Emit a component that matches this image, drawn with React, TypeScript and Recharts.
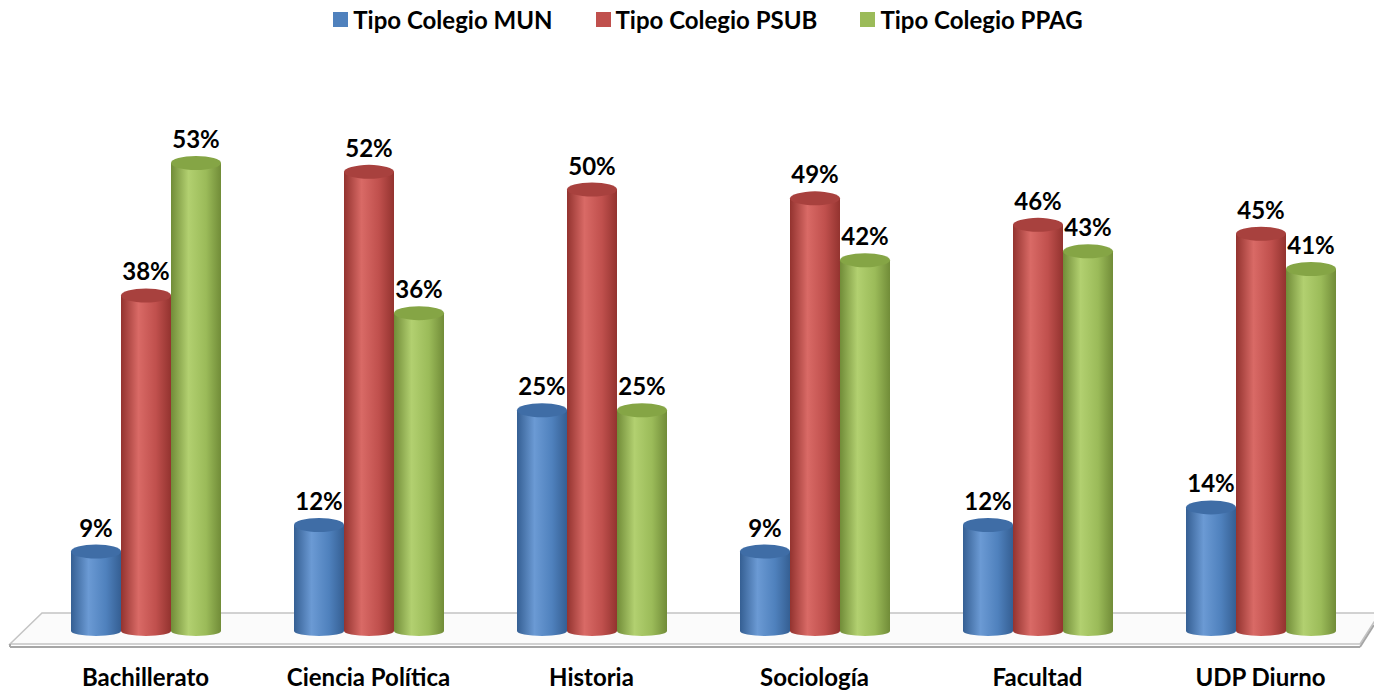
import React from 'react';
import { BarChart, Bar, XAxis, YAxis, LabelList, Customized } from 'recharts';

const categories = ['Bachillerato', 'Ciencia Política', 'Historia', 'Sociología', 'Facultad', 'UDP Diurno'];
const mun = [9, 12, 25, 9, 12, 14];
const psub = [38, 52, 50, 49, 46, 45];
const ppag = [53, 36, 25, 42, 43, 41];

const seriesNames = ['Tipo Colegio MUN', 'Tipo Colegio PSUB', 'Tipo Colegio PPAG'];

const W = 1374;
const H = 691;
const M = { top: 103, right: 2, left: 34, bottom: 0 };
const AXIS_H = 60;
const FONT = 'Lato, "Open Sans", sans-serif';

const COLORS = [
    { key: 'mun', base: '#4F81BD', dark: '#355f93', light: '#6b9ad4', top: '#3f6da6' },
    { key: 'psub', base: '#C0504D', dark: '#93332f', light: '#d96a66', top: '#a8413e' },
    { key: 'ppag', base: '#9BBB59', dark: '#718c38', light: '#b2d070', top: '#85a545' },
];

const data = categories.map((name, i) => ({
    name,
    mun: mun[i],
    psub: psub[i],
    ppag: ppag[i],
}));

// cylinder drawn around the rect recharts gives us
const makeCylinder = (idx: number) => (props: any) => {
    const { x, y, width, height } = props;
    if (width == null || height == null) return null;
    const c = COLORS[idx];
    const rx = width / 2;
    const ry = 7;
    const bottom = y + height;
    const body = `M${x},${y} L${x},${bottom} A${rx},${ry - 2} 0 0 0 ${x + width},${bottom} L${x + width},${y} Z`;
    return (
        <g>
            <path d={body} fill={`url(#cyl-${c.key})`} />
            <ellipse cx={x + rx} cy={y} rx={rx} ry={ry} fill={c.top} />
        </g>
    );
};

const Floor = () => {
    const base = H - AXIS_H; // y of value 0
    const backY = base - 18;
    const frontY = base + 13;
    const left = 10;
    const right = 1360;
    const slant = 32;
    return (
        <g>
            <polygon
                points={`${left + slant},${backY} ${W + 10},${backY} ${right + 14},${frontY - 22} ${right},${frontY} ${left},${frontY}`}
                fill="#fbfbfb"
                stroke="#c4c4c4"
                strokeWidth={1.5}
            />
            <line x1={left} y1={frontY + 3} x2={right} y2={frontY + 3} stroke="#a6a6a6" strokeWidth={2} />
            <line x1={left} y1={frontY} x2={left} y2={frontY + 3} stroke="#a6a6a6" strokeWidth={2} />
            <line x1={right} y1={frontY + 3} x2={right + 14} y2={frontY - 19} stroke="#a6a6a6" strokeWidth={2} />
        </g>
    );
};

const CategoryTick = (props: any) => {
    const { x, y, payload } = props;
    return (
        <text x={x} y={y + 37} textAnchor="middle" dominantBaseline="central"
            fontFamily={FONT} fontWeight={700} fontSize={24} fill="#000">
            {payload.value}
        </text>
    );
};

const App: React.FC = () => {
    return (
        <div style={{ position: 'absolute', left: 0, top: 0, width: W, height: H, background: '#fff' }}>
            <div style={{
                position: 'absolute', top: 5, left: 21, width: W, display: 'flex', justifyContent: 'center',
                fontFamily: FONT, fontWeight: 700, fontSize: 24, color: '#000', gap: 43,
            }}>
                {seriesNames.map((s, i) => (
                    <div key={s} style={{ display: 'flex', alignItems: 'center', gap: 5 }}>
                        <span style={{ width: 15, height: 15, background: COLORS[i].base, display: 'inline-block' }} />
                        <span>{s}</span>
                    </div>
                ))}
            </div>
            <BarChart width={W} height={H} data={data} margin={M} barGap={0} barSize={50}>
                <defs>
                    {COLORS.map(c => (
                        <linearGradient key={c.key} id={`cyl-${c.key}`} x1="0" y1="0" x2="1" y2="0">
                            <stop offset="0%" stopColor={c.dark} />
                            <stop offset="35%" stopColor={c.light} />
                            <stop offset="70%" stopColor={c.base} />
                            <stop offset="100%" stopColor={c.dark} />
                        </linearGradient>
                    ))}
                </defs>
                <Customized component={<Floor />} />
                <XAxis dataKey="name" axisLine={false} tickLine={false} height={AXIS_H} tick={<CategoryTick />} interval={0} />
                <YAxis hide domain={[0, 59.8]} />
                {COLORS.map((c, i) => (
                    <Bar key={c.key} dataKey={c.key} name={seriesNames[i]} fill={c.base}
                        shape={makeCylinder(i)} isAnimationActive={false}>
                        <LabelList dataKey={c.key} position="top" offset={15}
                            formatter={(v: any) => `${v}%`}
                            style={{ fontFamily: FONT, fontWeight: 700, fontSize: 24, fill: '#000' }} />
                    </Bar>
                ))}
            </BarChart>
        </div>
    );
};

export default App;
